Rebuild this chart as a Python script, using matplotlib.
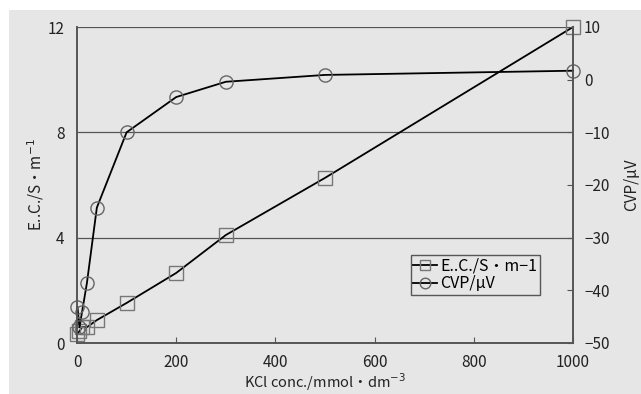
import numpy as np
import matplotlib.pyplot as plt
from matplotlib.patches import Rectangle

plt.rcParams['font.family'] = ['Noto Sans CJK JP', 'DejaVu Sans']

conc = [1, 5, 10, 20, 40, 100, 200, 300, 500, 1000]
ec = [0.35, 0.45, 0.6, 0.6, 0.87, 1.52, 2.66, 4.1, 6.27, 12.0]
conc_cvp = [1, 5, 10, 20, 40, 100, 200, 300, 500, 1000]
cvp = [-43.2, -47.0, -44.2, -38.6, -24.3, -10.0, -3.3, -0.4, 0.9, 1.7]

bg = '#e6e6e6'
txt = '#222222'
fig = plt.figure(figsize=(6.41, 3.94), dpi=100, facecolor='white')
fig.patches.append(Rectangle((9 / 641, -0.1), 2, 384 / 394 + 0.1, transform=fig.transFigure,
                             facecolor=bg, edgecolor='none', zorder=-10))

ax = fig.add_axes([77 / 641, 1 - 343 / 394, 496 / 641, 316 / 394])
ax.set_facecolor(bg)
ax2 = ax.twinx()

l1, = ax.plot(conc, ec, color='black', lw=1.3, marker='s', ms=9.5,
              mfc='none', mec='#777777', mew=1.0, clip_on=False,
              label='E..C./S・m\u22121')
l2, = ax2.plot(conc_cvp, cvp, color='black', lw=1.3, marker='o', ms=9.5,
               mfc='none', mec='#666666', mew=1.0, clip_on=False,
               label='CVP/μV')

ax.set_xlim(0, 1000)
ax.set_ylim(0, 12)
ax.set_yticks([0, 4, 8, 12])
ax.set_xticks([0, 200, 400, 600, 800, 1000])
ax2.set_ylim(-50, 10)
ax2.set_yticks([-50, -40, -30, -20, -10, 0, 10])
ax2.set_yticklabels(['\u221250', '\u221240', '\u221230', '\u221220', '\u221210', '0', '10'])

for y in [4, 8, 12]:
    ax.axhline(y, color='#555555', lw=0.9, zorder=0)

for a in (ax, ax2):
    for s in a.spines.values():
        s.set_color('#555555')
        s.set_linewidth(1.2)
    a.spines['top'].set_visible(False)
    a.tick_params(direction='in', length=4, color='#555555', labelsize=11,
                  labelcolor=txt)
ax.tick_params(axis='y', length=0, pad=9)
ax.tick_params(axis='x', pad=8)
ax2.tick_params(axis='y', pad=8)

ax.set_xlabel('KCl conc./mmol・dm$^{-3}$', fontsize=10.5, labelpad=0, color=txt)
ax.set_ylabel('E..C./S・m$^{-1}$', fontsize=11, labelpad=1, color=txt)
ax2.set_ylabel('CVP/μV', fontsize=11, rotation=90, labelpad=10, color=txt)

leg = ax.legend([l1, l2], [l1.get_label(), l2.get_label()],
                loc='upper left', bbox_to_anchor=(334 / 496, (343 - 255) / 316),
                fontsize=11.5, frameon=True, fancybox=False, handlelength=1.5,
                handletextpad=0.2, borderpad=0.15, labelspacing=0.05,
                borderaxespad=0, markerscale=0.8)
leg.get_frame().set_edgecolor('#333333')
leg.get_frame().set_facecolor(bg)
leg.get_frame().set_linewidth(1.0)

plt.savefig('out.png', dpi=100, facecolor='white')
